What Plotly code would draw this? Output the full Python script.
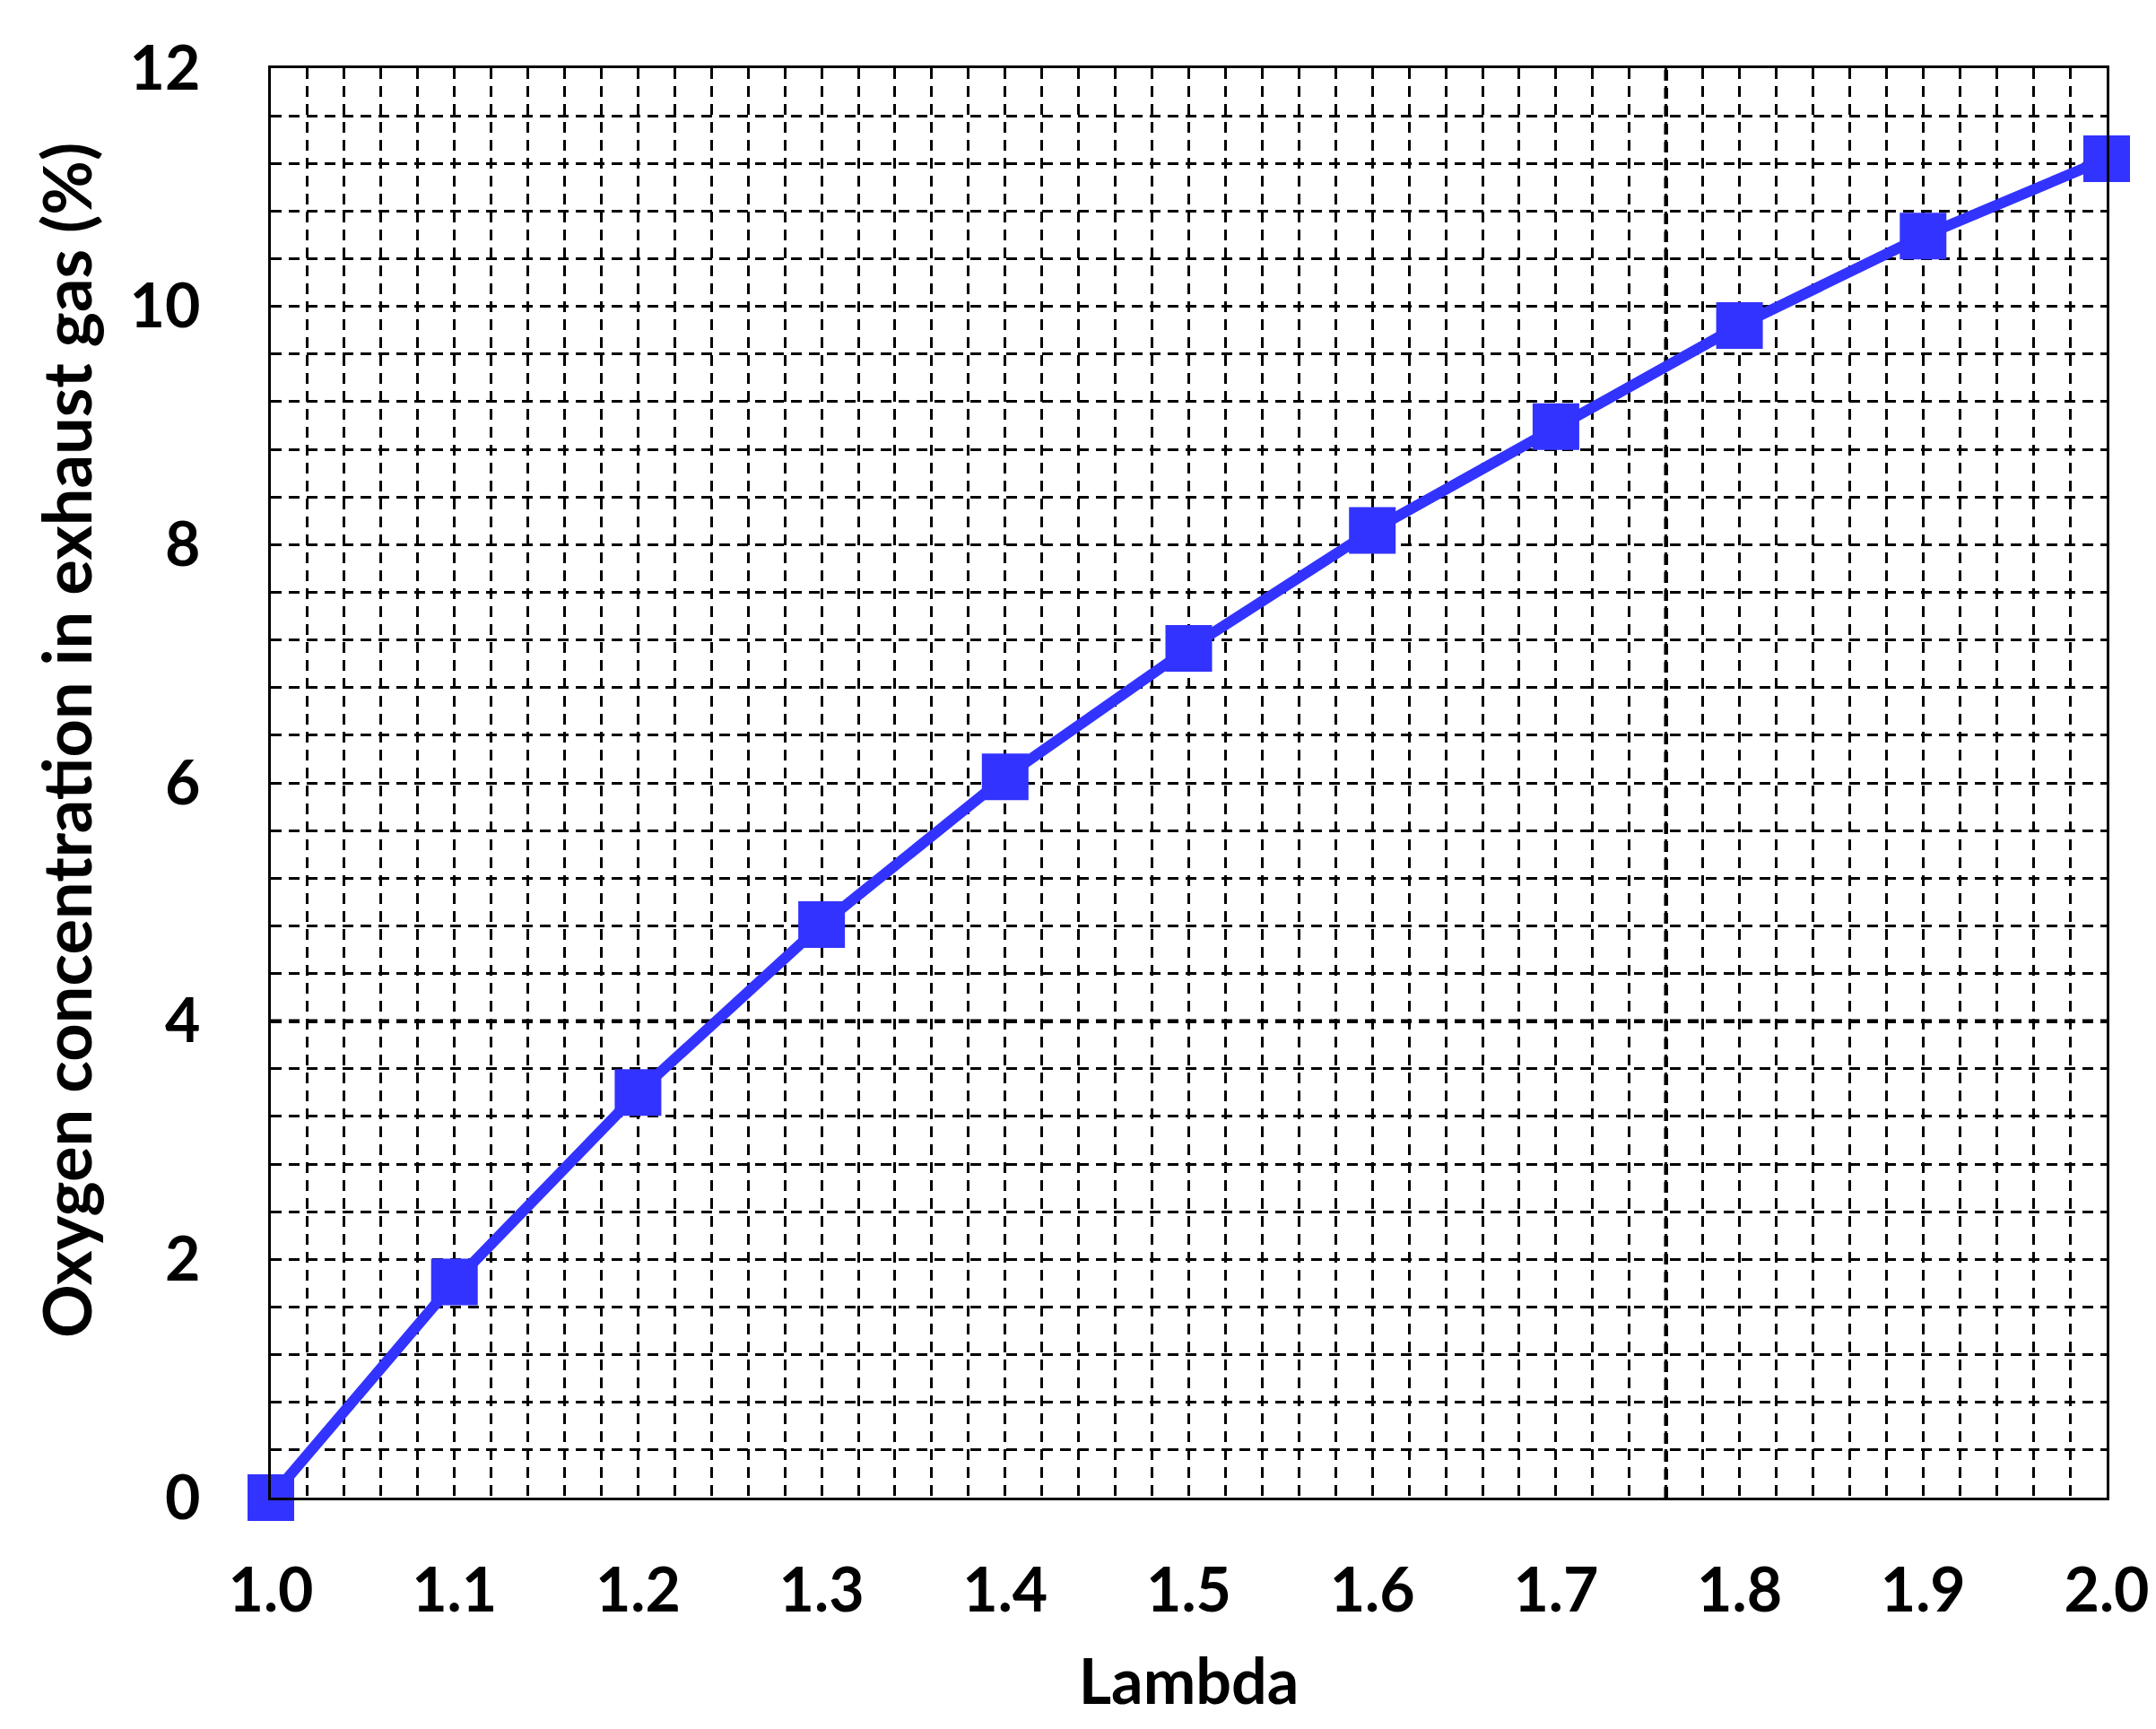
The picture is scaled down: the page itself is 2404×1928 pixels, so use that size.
import plotly.graph_objects as go

# Data
lambda_vals = [1.0, 1.1, 1.2, 1.3, 1.4, 1.5, 1.6, 1.7, 1.8, 1.9, 2.0]
oxygen_pct = [0.0, 1.81, 3.40, 4.81, 6.05, 7.13, 8.12, 8.99, 9.84, 10.59, 11.24]

x_tickvals = [1.0, 1.1, 1.2, 1.3, 1.4, 1.5, 1.6, 1.7, 1.8, 1.9, 2.0]
x_ticktext = ["1.0", "1.1", "1.2", "1.3", "1.4", "1.5", "1.6", "1.7", "1.8", "1.9", "2.0"]
y_tickvals = [0, 2, 4, 6, 8, 10, 12]

x_title = "Lambda"
y_title = "Oxygen concentration in exhaust gas (%)"

# gridlines that appear heavier in the reference
heavy_grid_x = [1.76]
heavy_grid_y = [4]

FONT = "Lato"
BLUE = "#3333FF"
GRID_DASH = "12px,8px"

fig = go.Figure()
fig.add_trace(go.Scatter(
    x=lambda_vals, y=oxygen_pct, mode="lines+markers",
    line=dict(color=BLUE, width=12),
    marker=dict(symbol="square", size=52, color=BLUE, line=dict(width=0)),
    cliponaxis=False, showlegend=False,
))

shapes = []
for xv in heavy_grid_x:
    shapes.append(dict(type="line", xref="x", yref="paper", x0=xv, x1=xv, y0=0, y1=1,
                       line=dict(color="black", width=4.5, dash=GRID_DASH), layer="below"))
for yv in heavy_grid_y:
    shapes.append(dict(type="line", xref="paper", yref="y", x0=0, x1=1, y0=yv, y1=yv,
                       line=dict(color="black", width=4.5, dash=GRID_DASH), layer="below"))

fig.update_layout(
    width=2404, height=1928,
    margin=dict(l=294, r=63, t=68, b=266),
    paper_bgcolor="white", plot_bgcolor="white",
    font=dict(family=FONT, color="black"),
    shapes=shapes,
    annotations=[dict(
        text=y_title, xref="paper", yref="paper", x=-0.112, y=0.53,
        xanchor="center", yanchor="middle", textangle=-90, showarrow=False,
        font=dict(family=FONT, size=74, weight="bold", color="black"),
    )],
    xaxis=dict(
        range=[1.0, 2.0], tickvals=x_tickvals, ticktext=x_ticktext,
        tickfont=dict(family=FONT, size=68, weight="bold"),
        showgrid=True, gridcolor="black", gridwidth=2.6, griddash=GRID_DASH,
        minor=dict(dtick=0.02, tick0=1.0, showgrid=True, gridcolor="black",
                   gridwidth=2.6, griddash=GRID_DASH),
        showline=True, linecolor="black", linewidth=3, mirror=True,
        ticks="", ticklabelstandoff=42, zeroline=False,
        title=dict(text=x_title, font=dict(family=FONT, size=70, weight="bold"), standoff=42),
    ),
    yaxis=dict(
        range=[0, 12], tickvals=y_tickvals,
        tickfont=dict(family=FONT, size=68, weight="bold"),
        showgrid=True, gridcolor="black", gridwidth=2.6, griddash=GRID_DASH,
        minor=dict(dtick=0.4, tick0=0, showgrid=True, gridcolor="black",
                   gridwidth=2.6, griddash=GRID_DASH),
        showline=True, linecolor="black", linewidth=3, mirror=True,
        ticks="", ticklabelstandoff=62, zeroline=False,
    ),
)

fig.write_html("out.html")
